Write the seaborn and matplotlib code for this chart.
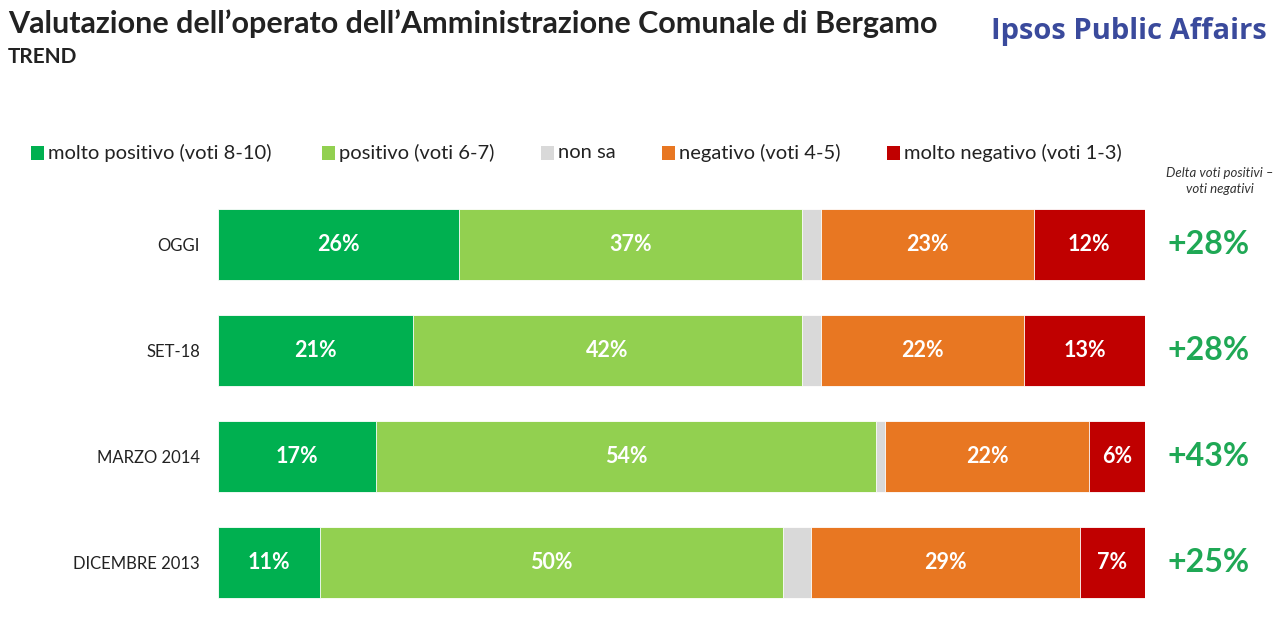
import numpy as np
import pandas as pd
import matplotlib
matplotlib.use("Agg")
import matplotlib.pyplot as plt
import seaborn as sns
from matplotlib.patches import Rectangle

sns.set_theme(style="white")
plt.rcParams['font.family'] = ['Lato', 'DejaVu Sans']

periods = ["OGGI", "SET-18", "MARZO 2014", "DICEMBRE 2013"]
series_names = ["molto positivo (voti 8-10)", "positivo (voti 6-7)", "non sa",
                "negativo (voti 4-5)", "molto negativo (voti 1-3)"]
molto_positivo = [26, 21, 17, 11]
positivo = [37, 42, 54, 50]
non_sa = [2, 2, 1, 3]
negativo = [23, 22, 22, 29]
molto_negativo = [12, 13, 6, 7]
delta = ["+28%", "+28%", "+43%", "+25%"]
colors = ["#00b050", "#92d050", "#d9d9d9", "#e87722", "#c00000"]

series = [molto_positivo, positivo, non_sa, negativo, molto_negativo]
cum = np.cumsum(np.array(series, dtype=float), axis=0)

fig = plt.figure(figsize=(12.8, 6.19), dpi=100)
ax = fig.add_axes([218/1280, 3/619, 927/1280, 424.5/619])

# stacked bars: draw cumulative totals from the largest to the smallest
for i in range(len(series) - 1, -1, -1):
    df = pd.DataFrame({"period": periods, "value": cum[i]})
    sns.barplot(data=df, x="value", y="period", orient="h", color=colors[i],
                width=0.67, saturation=1, ax=ax, edgecolor="white", linewidth=0.6)

# value labels
for i, s in enumerate(series):
    if i == 2:
        continue
    for j, v in enumerate(s):
        start = cum[i][j] - v
        ax.text(start + v / 2, j, f"{v}%", ha="center", va="center",
                color="white", fontsize=15.5, fontweight="bold")

ax.set_xlim(0, 100)
ax.set_ylim(3.5, -0.5)
ax.set_xlabel("")
ax.set_ylabel("")
ax.set_xticks([])
ax.tick_params(axis="y", length=0, pad=13, labelsize=12, labelcolor="#222222")
for sp in ax.spines.values():
    sp.set_visible(False)

# delta column
for j, d in enumerate(delta):
    ax.text(1.069, j, d, transform=ax.get_yaxis_transform(), ha="center",
            va="center", color="#1fa855", fontsize=23, fontweight="bold")

fig.text(1220/1280, 1 - 181/619, "Delta voti positivi –\nvoti negativi",
         ha="center", va="center", fontsize=9.5, style="italic", color="#333333",
         linespacing=1.4)

# titles
fig.text(8/1280, 1 - 24/619, "Valutazione dell’operato dell’Amministrazione Comunale di Bergamo",
         ha="left", va="center", fontsize=22, fontweight="bold", color="#222222")
fig.text(8/1280, 1 - 57/619, "TREND", ha="left", va="center", fontsize=15,
         fontweight="bold", color="#222222")
fig.text(1267/1280, 1 - 32/619, "Ipsos Public Affairs", ha="right", va="center",
         fontsize=21, fontweight="bold", color="#3a4a9c", family=["Open Sans", "DejaVu Sans"])

# legend (manual placement)
sq_x = [31, 322, 541, 662, 887]
sq = 13
for x, c, name in zip(sq_x, colors, series_names):
    fig.patches.append(Rectangle((x/1280, (619 - 153 - sq/2)/619), sq/1280, sq/619,
                                 transform=fig.transFigure, facecolor=c, edgecolor="none"))
    fig.text((x + sq + 4)/1280, 1 - 153/619, name, ha="left", va="center",
             fontsize=14.5, color="#222222")

fig.savefig("out.png", dpi=100)
